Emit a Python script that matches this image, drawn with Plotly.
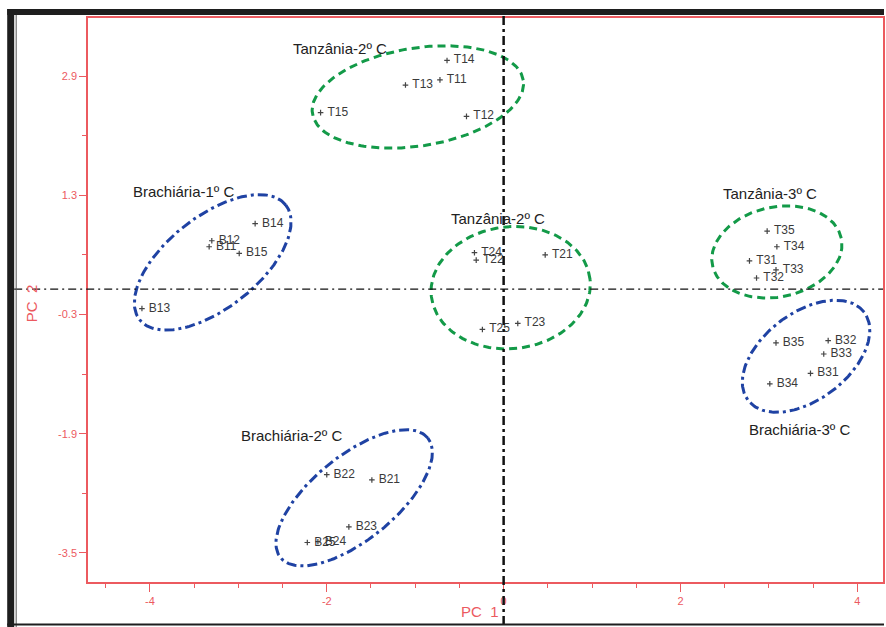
import numpy as np
import plotly.graph_objects as go

# ---------------- data ----------------
t2a_labels = ["T11", "T12", "T13", "T14", "T15"]
t2a_x = [-0.72, -0.42, -1.11, -0.64, -2.07]
t2a_y = [2.85, 2.36, 2.78, 3.11, 2.41]

b1_labels = ["B11", "B12", "B13", "B14", "B15"]
b1_x = [-3.33, -3.30, -4.09, -2.81, -2.99]
b1_y = [0.61, 0.69, -0.22, 0.92, 0.52]

t2b_labels = ["T21", "T22", "T23", "T24", "T25"]
t2b_x = [0.47, -0.31, 0.16, -0.33, -0.24]
t2b_y = [0.50, 0.43, -0.42, 0.53, -0.50]

t3_labels = ["T31", "T32", "T33", "T34", "T35"]
t3_x = [2.78, 2.86, 3.08, 3.09, 2.98]
t3_y = [0.42, 0.19, 0.30, 0.61, 0.82]

b3_labels = ["B31", "B32", "B33", "B34", "B35"]
b3_x = [3.47, 3.67, 3.62, 3.01, 3.08]
b3_y = [-1.09, -0.65, -0.83, -1.23, -0.68]

b2_labels = ["B21", "B22", "B23", "B24", "B25"]
b2_x = [-1.49, -2.00, -1.75, -2.10, -2.22]
b2_y = [-2.52, -2.45, -3.15, -3.35, -3.36]

group_names = ["Tanzânia-2º C", "Brachiária-1º C", "Tanzânia-2º C",
               "Tanzânia-3º C", "Brachiária-3º C", "Brachiária-2º C"]

y_tickvals = [2.9, 1.3, -0.3, -1.9, -3.5]
y_ticktext = ["2.9", "1.3", "-0.3", "-1.9", "-3.5"]
x_tickvals = [-4, -2, 0, 2, 4]
x_ticktext = ["-4", "-2", "0", "2", "4"]

# ---------------- layout constants ----------------
W, H = 886, 627
PL, PR, PT, PB = 88, 885, 18, 582   # plot area in page pixels
ML, MT = PL, PT
MR, MB = W - PR, H - PB
XR = [-4.70, 4.29]
YR = [-3.89, 3.68]
PW = PR - PL
PH = PB - PT
SX = PW / (XR[1] - XR[0])   # px per unit
SY = PH / (YR[1] - YR[0])

RED = "#ec5a5f"
GREEN = "#139a48"
BLUE = "#1f42a3"
PTC = "#444444"
FONT = "Liberation Sans, Arial"


def px2paper_x(px):
    return (px - PL) / PW


def px2paper_y(py):
    return 1 - (py - PT) / PH


def ellipse(cx, cy, a_px, b_px, theta_deg, n=200):
    t = np.linspace(0, 2 * np.pi, n)
    th = np.radians(theta_deg)
    dx = a_px * np.cos(t) * np.cos(th) - b_px * np.sin(t) * np.sin(th)
    dy = a_px * np.cos(t) * np.sin(th) + b_px * np.sin(t) * np.cos(th)
    return cx + dx / SX, cy + dy / SY


fig = go.Figure()

ell_specs = [
    (-0.97, 2.62, 107, 49, 9, GREEN, "8px,5px"),
    (-3.29, 0.40, 93, 46, 38, BLUE, "10px,4px,3px,4px"),
    (0.08, 0.06, 80, 61, 6, GREEN, "8px,5px"),
    (3.09, 0.54, 66, 45, 12, GREEN, "8px,5px"),
    (3.42, -0.86, 73, 43.5, 37, BLUE, "10px,4px,3px,4px"),
    (-1.69, -2.76, 95, 42, 39, BLUE, "10px,4px,3px,4px"),
]
for cx, cy, a, b, th, col, dash in ell_specs:
    ex, ey = ellipse(cx, cy, a, b, th)
    fig.add_trace(go.Scatter(x=ex, y=ey, mode="lines",
                             line=dict(color=col, width=3, dash=dash),
                             hoverinfo="skip", showlegend=False))

groups = [
    (t2a_x, t2a_y, t2a_labels),
    (b1_x, b1_y, b1_labels),
    (t2b_x, t2b_y, t2b_labels),
    (t3_x, t3_y, t3_labels),
    (b3_x, b3_y, b3_labels),
    (b2_x, b2_y, b2_labels),
]
for gx, gy, gl in groups:
    fig.add_trace(go.Scatter(
        x=gx, y=gy, text=gl, mode="markers+text",
        marker=dict(symbol="cross-thin", size=4, line=dict(color=PTC, width=1.2), color=PTC),
        textposition="middle right", texttemplate="\u00a0%{text}",
        textfont=dict(family=FONT, size=12, color="#3a3a3a"),
        showlegend=False, hoverinfo="text"))

lab_pos = [(-2.40, 3.27), (-4.21, 1.35), (-0.62, 0.99),
           (2.46, 1.32), (2.75, -1.84), (-2.99, -1.93)]
for name, (lx, ly) in zip(group_names, lab_pos):
    fig.add_annotation(x=lx, y=ly, text=name, showarrow=False,
                       xanchor="left", yanchor="middle",
                       font=dict(family=FONT, size=15, color="#222222"))

fig.add_annotation(x=px2paper_x(481), y=px2paper_y(611),
                   xref="paper", yref="paper", text="PC  1", showarrow=False,
                   xanchor="center", yanchor="middle",
                   font=dict(family=FONT, size=15, color=RED))
fig.add_annotation(x=px2paper_x(31), y=px2paper_y(303),
                   xref="paper", yref="paper", text="PC  2", showarrow=False,
                   textangle=-90, xanchor="center", yanchor="middle",
                   font=dict(family=FONT, size=15, color=RED))

shapes = []
shapes.append(dict(type="line", xref="paper", yref="y",
                   x0=px2paper_x(14), x1=px2paper_x(885), y0=0.04, y1=0.04,
                   line=dict(color="#111111", width=1.2, dash="8px,4px,2px,4px")))
shapes.append(dict(type="line", xref="x", yref="paper",
                   x0=0, x1=0, y0=px2paper_y(16), y1=px2paper_y(627),
                   line=dict(color="#111111", width=2.5, dash="9px,4px,3px,4px")))
shapes.append(dict(type="rect", xref="paper", yref="paper",
                   x0=px2paper_x(7), x1=px2paper_x(14), y0=px2paper_y(627), y1=px2paper_y(9),
                   line=dict(width=0), fillcolor="#1e1e1e"))
shapes.append(dict(type="rect", xref="paper", yref="paper",
                   x0=px2paper_x(7), x1=px2paper_x(886), y0=px2paper_y(15), y1=px2paper_y(9),
                   line=dict(width=0), fillcolor="#1e1e1e"))
shapes.append(dict(type="line", xref="paper", yref="paper",
                   x0=px2paper_x(16), x1=px2paper_x(16), y0=px2paper_y(627), y1=px2paper_y(15),
                   line=dict(color="#555555", width=1)))
shapes.append(dict(type="line", xref="paper", yref="paper",
                   x0=px2paper_x(7), x1=px2paper_x(886), y0=px2paper_y(624.5), y1=px2paper_y(624.5),
                   line=dict(color="#1e1e1e", width=2)))
fig.update_layout(shapes=shapes)

axis_font = dict(family=FONT, size=11, color=RED)
fig.update_xaxes(range=XR, tickmode="array", tickvals=x_tickvals, ticktext=x_ticktext,
                 showgrid=False, zeroline=False, showline=True, linecolor=RED, linewidth=1.5,
                 mirror=True, ticks="outside", ticklen=8, tickcolor=RED, tickwidth=1.2,
                 tickfont=axis_font,
                 minor=dict(tickmode="linear", tick0=0, dtick=0.5, ticks="outside",
                            ticklen=4, tickcolor=RED, showgrid=False))
fig.update_yaxes(range=YR, tickmode="array", tickvals=y_tickvals, ticktext=y_ticktext,
                 showgrid=False, zeroline=False, showline=True, linecolor=RED, linewidth=1.5,
                 mirror=True, ticks="outside", ticklen=7, tickcolor=RED, tickwidth=1.2,
                 tickfont=axis_font,
                 minor=dict(tickmode="linear", tick0=0.5, dtick=1.6, ticks="outside",
                            ticklen=4, tickcolor=RED, showgrid=False))

fig.update_layout(width=W, height=H, margin=dict(l=ML, r=MR, t=MT, b=MB),
                  paper_bgcolor="white", plot_bgcolor="white", showlegend=False)

fig.write_html("out.html", config={"displayModeBar": False},
               post_script="document.body.style.margin='0px';"
                           "document.body.style.overflow='hidden';")
